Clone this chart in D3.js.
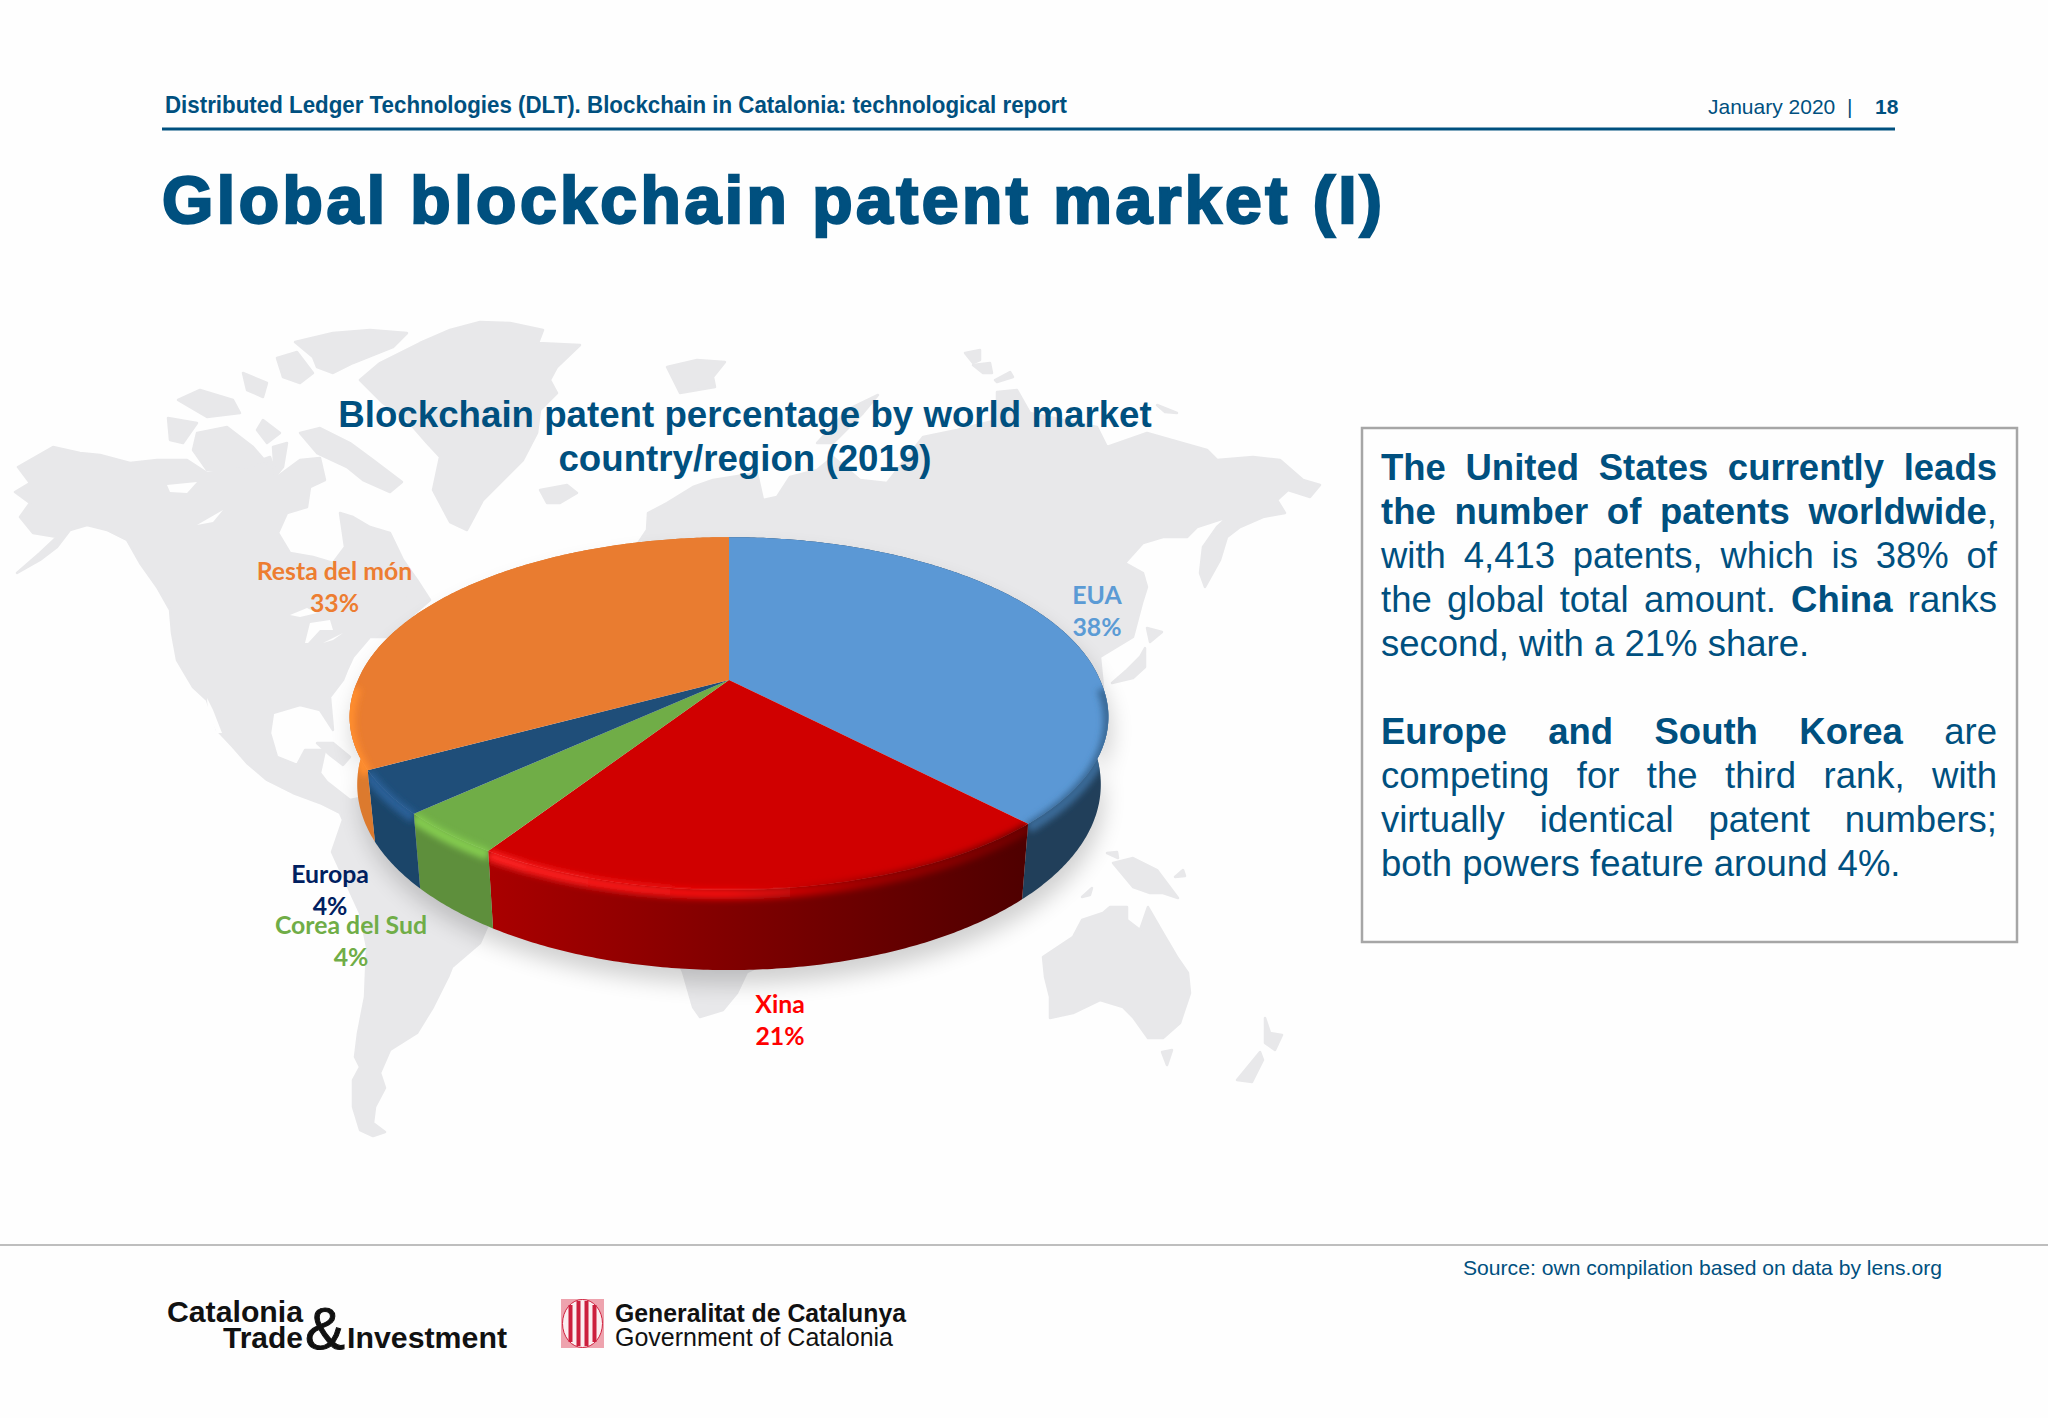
<!DOCTYPE html>
<html>
<head>
<meta charset="utf-8">
<title>Global blockchain patent market (I)</title>
<script src="https://cdn.jsdelivr.net/npm/d3@7"></script>
<style>
  html, body { margin: 0; padding: 0; background: #fefefe; }
  svg { display: block; }
  text { font-family: "Liberation Sans", Arial, sans-serif; }
  .lbl { font-family: Lato, "Open Sans", sans-serif; font-weight: 700; font-size: 24.8px; text-anchor: middle; }
</style>
</head>
<body>
<script>
"use strict";

// chart data
var categories = ["EUA", "Xina", "Corea del Sud", "Europa", "Resta del món"];
var shares = [38, 21, 4, 4, 33];
var topColors = ["#5b98d5", "#d00000", "#70ad47", "#1f4e79", "#e97c30"];
var rimColors = ["#3a6b98", "#ff2424", "#84cc50", "#2a6198", "#ff8d2e"];
var sideColors = ["#213f5a", "url(#redSide)", "#5e8f3c", "#1b4569", "#dc7a2e"];
var labelColors = ["#5b9bd5", "#ff0000", "#70ad47", "#002060", "#ed7d31"];

// slide text
var headerText = "Distributed Ledger Technologies (DLT). Blockchain in Catalonia: technological report";
var dateText = "January 2020  |";
var pageText = "18";
var slideTitle = "Global blockchain patent market (I)";
var chartTitle = ["Blockchain patent percentage by world market", "country/region (2019)"];
var sourceText = "Source: own compilation based on data by lens.org";

// each line of the box: words made of [text, bold] runs
var boxLines = [
  {words: [[["The", 1]], [["United", 1]], [["States", 1]], [["currently", 1]], [["leads", 1]]], justify: true},
  {words: [[["the", 1]], [["number", 1]], [["of", 1]], [["patents", 1]], [["worldwide", 1], [",", 0]]], justify: true},
  {words: [[["with", 0]], [["4,413", 0]], [["patents,", 0]], [["which", 0]], [["is", 0]], [["38%", 0]], [["of", 0]]], justify: true},
  {words: [[["the", 0]], [["global", 0]], [["total", 0]], [["amount.", 0]], [["China", 1]], [["ranks", 0]]], justify: true},
  {words: [[["second,", 0]], [["with", 0]], [["a", 0]], [["21%", 0]], [["share.", 0]]], justify: false},
  null,
  {words: [[["Europe", 1]], [["and", 1]], [["South", 1]], [["Korea", 1]], [["are", 0]]], justify: true},
  {words: [[["competing", 0]], [["for", 0]], [["the", 0]], [["third", 0]], [["rank,", 0]], [["with", 0]]], justify: true},
  {words: [[["virtually", 0]], [["identical", 0]], [["patent", 0]], [["numbers;", 0]]], justify: true},
  {words: [[["both", 0]], [["powers", 0]], [["feature", 0]], [["around", 0]], [["4%.", 0]]], justify: false}
];

// background world map, traced by hand
var landShapes = [
  // the Americas
  [[18,467],[53,447],[80,453],[100,455],[130,463],[157,460],[187,460],[207,473],[233,470],[270,457],[277,477],[300,460],[320,458],[325,480],[310,487],[307,507],[287,513],[278,533],[290,553],[313,557],[333,563],[345,547],[340,513],[353,517],[370,527],[390,533],[403,560],[417,580],[430,600],[407,620],[390,637],[370,637],[353,657],[347,670],[343,680],[330,697],[333,730],[320,710],[300,705],[273,713],[270,733],[277,757],[297,765],[305,750],[325,750],[320,773],[327,782],[350,800],[400,790],[500,850],[487,927],[480,943],[452,967],[448,977],[433,1007],[417,1033],[390,1050],[380,1073],[385,1088],[375,1107],[373,1123],[385,1132],[373,1136],[360,1130],[353,1107],[353,1080],[360,1067],[355,1057],[358,1033],[365,997],[367,947],[360,913],[332,852],[343,820],[340,813],[320,803],[293,793],[267,780],[247,763],[233,747],[217,730],[207,700],[193,687],[177,660],[172,633],[170,610],[157,587],[140,563],[127,540],[107,530],[87,525],[70,530],[57,547],[40,560],[17,573],[40,553],[57,537],[33,533],[20,517],[30,503],[15,492],[30,483]],
  // Canadian arctic
  [[295,342],[333,333],[370,330],[407,333],[393,347],[353,363],[333,373],[317,367],[313,357]],
  [[277,358],[297,352],[313,373],[300,383],[283,377]],
  [[300,433],[320,428],[350,443],[373,460],[402,482],[390,492],[363,480],[347,467],[317,453]],
  [[197,433],[227,427],[253,447],[267,463],[233,470],[207,470],[193,450]],
  [[168,418],[197,423],[183,443],[170,440]],
  [[178,400],[200,390],[233,400],[240,413],[207,417]],
  [[243,373],[267,383],[263,397],[247,390]],
  [[263,420],[280,433],[267,443],[257,430]],
  [[273,447],[287,443],[283,467],[275,477]],
  [[407,590],[420,590],[417,605],[405,600]],
  // Greenland, Iceland, Svalbard
  [[360,380],[380,363],[420,343],[450,330],[480,322],[510,323],[543,330],[538,343],[580,345],[557,367],[550,380],[557,393],[540,410],[537,433],[523,460],[510,473],[483,500],[467,530],[450,522],[433,490],[440,457],[427,443],[407,420],[383,403]],
  [[540,490],[567,485],[577,493],[560,503],[547,503]],
  [[667,367],[697,360],[725,362],[713,377],[715,387],[680,393]],
  // Eurasia and Africa
  [[647,530],[648,513],[667,503],[693,487],[713,480],[757,473],[763,500],[777,497],[790,477],[817,470],[833,457],[860,480],[887,483],[923,437],[957,430],[997,420],[997,392],[1017,390],[1030,413],[1097,427],[1107,447],[1147,433],[1207,450],[1217,460],[1253,457],[1280,460],[1303,480],[1320,485],[1310,497],[1288,490],[1277,500],[1285,513],[1263,517],[1240,527],[1227,537],[1220,560],[1205,587],[1200,573],[1203,547],[1217,527],[1228,517],[1197,527],[1187,537],[1163,537],[1143,543],[1125,563],[1143,573],[1147,587],[1142,603],[1133,637],[1100,657],[1103,687],[1090,760],[900,900],[747,972],[737,993],[723,1010],[700,1017],[693,1007],[683,972],[600,800],[600,600]],
  [[817,443],[847,410],[878,395],[863,413],[833,443]],
  [[965,353],[980,350],[980,360],[973,363]],
  [[973,365],[990,363],[992,373],[983,373]],
  [[995,380],[1010,372],[1013,377],[997,382]],
  [[1157,405],[1177,413],[1165,412]],
  // Japan
  [[1147,628],[1162,632],[1150,642]],
  [[1145,648],[1145,667],[1133,678],[1112,683],[1127,670],[1140,657]],
  // Oceania
  [[1043,957],[1073,937],[1082,920],[1103,913],[1110,907],[1127,907],[1127,920],[1140,930],[1148,907],[1163,933],[1177,957],[1188,973],[1190,993],[1180,1023],[1163,1038],[1148,1038],[1133,1017],[1123,1007],[1100,1000],[1073,1013],[1050,1018],[1050,997],[1045,977]],
  [[1162,1052],[1172,1050],[1167,1065]],
  [[1265,1018],[1270,1033],[1282,1035],[1275,1050],[1265,1043]],
  [[1260,1052],[1263,1060],[1252,1082],[1237,1080]],
  [[1113,863],[1133,858],[1157,870],[1178,898],[1163,893],[1150,893],[1133,887]],
  [[1175,877],[1183,870],[1185,876]],
  [[1082,897],[1092,888],[1090,895]],
  [[1107,853],[1117,852],[1118,858]],
  // Cuba
  [[317,743],[333,743],[350,757],[343,765],[330,755]]
];
var lakeShapes = [
  [[167,485],[197,482],[187,493],[170,492]],
  [[197,525],[223,510],[213,522]],
  [[290,615],[307,608],[317,613],[300,617]],
  [[305,643],[310,623],[330,620],[333,630],[320,630],[308,643]],
  [[323,643],[343,633],[333,640]],
  [[207,698],[213,710],[222,733],[217,733],[208,713]]
];

var width = 2048, height = 1418;
var ink = "#00507f";

var svg = d3.select("body").append("svg")
    .attr("width", width)
    .attr("height", height);
var defs = svg.append("defs");

[["blur3", 3], ["blurShadow", 11], ["blurMap", 0.7]].forEach(function(f) {
  defs.append("filter").attr("id", f[0])
      .attr("filterUnits", "userSpaceOnUse")
      .attr("x", 0).attr("y", 0).attr("width", width).attr("height", height)
    .append("feGaussianBlur").attr("stdDeviation", f[1]);
});

var redSide = defs.append("linearGradient").attr("id", "redSide")
    .attr("gradientUnits", "userSpaceOnUse")
    .attr("x1", 480).attr("x2", 1030).attr("y1", 0).attr("y2", 0);
[[0, "#ab0000"], [0.5, "#7c0000"], [1, "#4e0000"]].forEach(function(s) {
  redSide.append("stop").attr("offset", s[0]).attr("stop-color", s[1]);
});
var redRim = defs.append("linearGradient").attr("id", "redRim")
    .attr("gradientUnits", "userSpaceOnUse")
    .attr("x1", 480).attr("x2", 1030).attr("y1", 0).attr("y2", 0);
[[0, "#ff2424"], [0.45, "#ee0c0c"], [0.7, "#a00000"], [1, "#6e0000"]].forEach(function(s) {
  redRim.append("stop").attr("offset", s[0]).attr("stop-color", s[1]);
});

// map
var line = d3.line();
var map = svg.append("g").attr("filter", "url(#blurMap)");
map.selectAll("path.land").data(landShapes).join("path")
    .attr("class", "land")
    .attr("d", function(d) { return line(d) + "Z"; })
    .attr("fill", "#e8e8ea")
    .attr("stroke", "#e8e8ea").attr("stroke-width", 2.5).attr("stroke-linejoin", "round");
map.selectAll("path.lake").data(lakeShapes).join("path")
    .attr("class", "lake")
    .attr("d", function(d) { return line(d) + "Z"; })
    .attr("fill", "#fefefe");

// header
svg.append("text").attr("x", 165).attr("y", 113)
    .attr("font-size", 23).attr("font-weight", 700).attr("fill", ink)
    .attr("textLength", 902).attr("lengthAdjust", "spacingAndGlyphs")
    .text(headerText);
svg.append("text").attr("x", 1708).attr("y", 114)
    .attr("font-size", 21).attr("fill", ink)
    .style("white-space", "pre")
    .text(dateText);
svg.append("text").attr("x", 1875).attr("y", 114)
    .attr("font-size", 21).attr("font-weight", 700).attr("fill", ink)
    .text(pageText);
svg.append("line").attr("x1", 162).attr("x2", 1895).attr("y1", 129).attr("y2", 129)
    .attr("stroke", ink).attr("stroke-width", 3);
svg.append("text").attr("x", 162).attr("y", 223)
    .attr("font-size", 66).attr("font-weight", 700).attr("fill", ink)
    .attr("stroke", ink).attr("stroke-width", 2.4)
    .attr("textLength", 1220).attr("lengthAdjust", "spacing")
    .text(slideTitle);

// chart title
svg.selectAll("text.ctitle").data(chartTitle).join("text")
    .attr("class", "ctitle")
    .attr("x", 745)
    .attr("y", function(d, i) { return 427 + i * 44; })
    .attr("text-anchor", "middle")
    .attr("font-size", 36.7).attr("font-weight", 700).attr("fill", ink)
    .text(function(d) { return d; });

// pie, one flat disc seen in perspective
var cx = 729, apexY = 680, rx = 371, ry = 170, persp = -0.19, depth = 65;
var pieData = d3.pie().sort(null).value(function(d) { return d; })(shares);

function project(a, bottom) {
  var px = Math.sin(a), py = -Math.cos(a), w = 1 + persp * py;
  var flare = 1 + 0.02 * Math.max(py, 0);
  var x = px / w * rx * flare * (bottom ? 0.98 : 1);
  var y = py / w * ry + (bottom ? depth / w : 0);
  return [cx + x, apexY + y];
}
function arcAngles(s) {
  return d3.range(s.startAngle, s.endAngle, 0.01).concat([s.endAngle]);
}
function topPath(s) {
  return line([[cx, apexY]].concat(arcAngles(s).map(function(a) { return project(a, false); }))) + "Z";
}
function sidePath(s) {
  var angles = arcAngles(s);
  var upper = angles.map(function(a) { return project(a, false); });
  var lower = angles.slice().reverse().map(function(a) { return project(a, true); });
  return line(upper.concat(lower)) + "Z";
}

var pie = svg.append("g");
pie.append("path")
    .attr("d", sidePath({startAngle: 0, endAngle: 2 * Math.PI}))
    .attr("transform", "translate(3,14)")
    .attr("fill", "#000").attr("opacity", 0.18)
    .attr("filter", "url(#blurShadow)");
pie.selectAll("path.side").data(pieData).join("path")
    .attr("class", "side")
    .attr("d", sidePath)
    .attr("fill", function(d, i) { return sideColors[i]; });
pie.selectAll("path.top").data(pieData).join("path")
    .attr("class", "top")
    .attr("d", topPath)
    .attr("fill", function(d, i) { return topColors[i]; });

// soft bevel along the front rim of each slice
pieData.forEach(function(s, i) {
  var id = "clip" + i;
  var front = arcAngles(s).filter(function(a) { return -Math.cos(a) > 0.02; });
  defs.append("clipPath").attr("id", id)
    .append("path").attr("d", topPath(s) + sidePath(s));
  pie.append("g").attr("clip-path", "url(#" + id + ")")
    .append("path")
    .attr("d", line(front.map(function(a) { return project(a, false); })))
    .attr("transform", "translate(0,4)")
    .attr("fill", "none")
    .attr("stroke", i === 1 ? "url(#redRim)" : rimColors[i])
    .attr("stroke-width", 11)
    .attr("filter", "url(#blur3)");
});

// slice labels
var labelSpots = [[1097, 604], [780, 1013], [351, 934], [330, 883], [334.5, 580]];
var labels = svg.selectAll("g.lbl").data(categories).join("g").attr("class", "lbl");
labels.append("text")
    .attr("class", "lbl")
    .attr("x", function(d, i) { return labelSpots[i][0]; })
    .attr("y", function(d, i) { return labelSpots[i][1]; })
    .attr("fill", function(d, i) { return labelColors[i]; })
    .text(function(d) { return d; });
labels.append("text")
    .attr("class", "lbl")
    .attr("x", function(d, i) { return labelSpots[i][0]; })
    .attr("y", function(d, i) { return labelSpots[i][1] + 32; })
    .attr("fill", function(d, i) { return labelColors[i]; })
    .text(function(d, i) { return shares[i] + "%"; });

// text box
svg.append("rect").attr("x", 1362).attr("y", 428).attr("width", 655).attr("height", 514)
    .attr("fill", "none").attr("stroke", "#a6a6a6").attr("stroke-width", 2.5);

var boxLeft = 1381, boxRight = 1997, boxSize = 36.5, spaceWidth = boxSize * 0.278;
var probe = svg.append("text").attr("font-size", boxSize);
function measure(t, bold) {
  probe.attr("font-weight", bold ? 700 : 400).text(t);
  return probe.node().getComputedTextLength();
}
boxLines.forEach(function(l, row) {
  if (!l) return;
  var widths = l.words.map(function(w) {
    return d3.sum(w, function(r) { return measure(r[0], r[1]); });
  });
  var gap = l.justify ? (boxRight - boxLeft - d3.sum(widths)) / (l.words.length - 1) : spaceWidth;
  var y = 479.5 + row * 44.1, x = boxLeft;
  var t = svg.append("text").attr("y", y).attr("font-size", boxSize).attr("fill", ink);
  l.words.forEach(function(w, k) {
    var wx = x;
    w.forEach(function(r) {
      t.append("tspan").attr("x", wx).attr("font-weight", r[1] ? 700 : 400).text(r[0]);
      wx += measure(r[0], r[1]);
    });
    x += widths[k] + gap;
  });
});
probe.remove();

// footer
svg.append("line").attr("x1", 0).attr("x2", width).attr("y1", 1245).attr("y2", 1245)
    .attr("stroke", "#a9a9a9").attr("stroke-width", 1.5);
svg.append("text").attr("x", 1463).attr("y", 1275)
    .attr("font-size", 21).attr("fill", ink)
    .attr("textLength", 479).attr("lengthAdjust", "spacingAndGlyphs")
    .text(sourceText);

// logos
var logoText = [
  ["Catalonia", 167, 1322, 30, 700, 136],
  ["Trade", 223, 1348, 30, 700, 80],
  ["Investment", 347, 1348, 30, 700, 160],
  ["Generalitat de Catalunya", 615, 1322, 26, 700, 291],
  ["Government of Catalonia", 615, 1346, 26, 400, 278]
];
svg.selectAll("text.logo").data(logoText).join("text")
    .attr("class", "logo")
    .attr("x", function(d) { return d[1]; })
    .attr("y", function(d) { return d[2]; })
    .attr("font-size", function(d) { return d[3]; })
    .attr("font-weight", function(d) { return d[4]; })
    .attr("textLength", function(d) { return d[5]; })
    .attr("lengthAdjust", "spacingAndGlyphs")
    .attr("fill", "#111")
    .text(function(d) { return d[0]; });
svg.append("text").attr("x", 305).attr("y", 1349)
    .attr("font-size", 60).attr("fill", "#111").attr("stroke", "#111").attr("stroke-width", 1)
    .attr("textLength", 40).attr("lengthAdjust", "spacingAndGlyphs")
    .text("&");

// Catalan shield
var shield = svg.append("g");
shield.append("rect").attr("x", 561).attr("y", 1299).attr("width", 43).attr("height", 49)
    .attr("fill", "#eea3ae");
shield.append("ellipse").attr("cx", 582.5).attr("cy", 1323.5).attr("rx", 20).attr("ry", 24)
    .attr("fill", "#fbeef0").attr("stroke", "#d0223f").attr("stroke-width", 1);
d3.range(4).forEach(function(i) {
  shield.append("rect").attr("x", 568.5 + i * 8).attr("y", 1301 + (i === 0 || i === 3 ? 4 : 0))
      .attr("width", 4).attr("height", i === 0 || i === 3 ? 37 : 45)
      .attr("fill", "#cc1f3d");
});
</script>
</body>
</html>
